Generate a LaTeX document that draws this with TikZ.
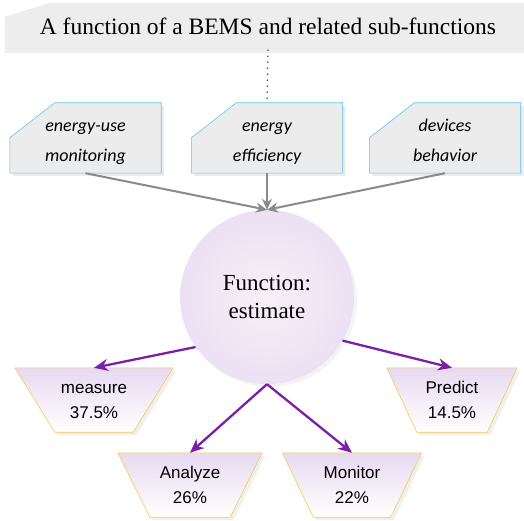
\documentclass[tikz,border=0pt]{standalone}
\usepackage{fontspec}
\setmainfont{Liberation Serif}
\setsansfont{Liberation Sans}
\newfontfamily\topicfont{Carlito}
\usepackage{tikz}
\usetikzlibrary{positioning, arrows.meta, shadows, backgrounds}

\definecolor{bannerfill}{HTML}{EDEDED}
\definecolor{topicfill}{HTML}{ECECEC}
\definecolor{topicline}{HTML}{5CC6EC}
\definecolor{lavender}{HTML}{E7DAF1}
\definecolor{blush}{HTML}{F7F0F6}
\definecolor{lilac}{HTML}{ECE0F4}
\definecolor{goldline}{HTML}{F7C94C}
\definecolor{arrgray}{HTML}{8A8A8A}
\definecolor{arrpurple}{HTML}{7B1FA8}

% invisible struts: fixed height above the first line, depth below the last
\newcommand{\upstrut}[1]{\rule{0pt}{#1}}
\newcommand{\downstrut}[1]{\rule[-#1]{0pt}{#1}}

\begin{document}
\begin{tikzpicture}[
    x=1pt, y=-1pt,
    every node/.style={align=center, inner sep=0pt},
    banner/.style={rectangle, minimum width=526pt, minimum height=47pt,
        font=\fontsize{23.5}{28}\selectfont},
    bannerframe/.style={fill=bannerfill,
        drop shadow={shadow xshift=0pt, shadow yshift=-3pt, fill=gray!20, opacity=0.6}},
    topic/.style={rectangle, minimum width=151pt, minimum height=70pt,
        font=\topicfont\itshape\fontsize{18}{30}\selectfont},
    topicframe/.style={draw=topicline, line width=0.6pt, fill=topicfill,
        drop shadow={shadow xshift=3pt, shadow yshift=-3pt, fill=gray!25, opacity=0.6}},
    fn/.style={circle, minimum size=174pt, inner color=blush, outer color=lilac,
        font=\fontsize{23}{28}\selectfont,
        drop shadow={shadow xshift=3pt, shadow yshift=-3pt, fill=gray!15, opacity=0.6}},
    share/.style={rectangle, minimum height=64pt,
        font=\sffamily\fontsize{17}{25}\selectfont},
    shareframe/.style={draw=goldline, line width=0.6pt, top color=lavender, bottom color=white,
        drop shadow={shadow xshift=3pt, shadow yshift=-3pt, fill=gray!20, opacity=0.6}},
    dots/.style={draw=black!80, line width=1.6pt, line cap=round, dash pattern=on 0pt off 6pt},
    grayarr/.style={-{Stealth[length=11pt, width=10pt]}, draw=arrgray, line width=2pt},
    purparr/.style={-{Stealth[length=14pt, width=12pt]}, draw=arrpurple, line width=2.3pt},
]
    \useasboundingbox (0,0) rectangle (524,521);

    % --- nodes (pixel coordinates, top-to-bottom) ---
    \node[banner] (banner) at (268,26.5) {A function of a BEMS and related sub-functions};

    % three related sub-functions
    \node[topic] (use) at (85.5,138) {\upstrut{22pt}energy-use\\monitoring\downstrut{4pt}};
    \node[topic] (eff) at (267,138) {\upstrut{22pt}energy\\efficiency\downstrut{4pt}};
    \node[topic] (dev) at (445,138) {\upstrut{22pt}devices\\behavior\downstrut{4pt}};

    % the function itself
    \node[fn] (fn) at (267,297) {\upstrut{18pt}Function:\\estimate\downstrut{4pt}};

    % shares of the function
    \node[share, minimum width=158pt] (measure) at (94,400) {\upstrut{15pt}measure\\37.5\%\downstrut{4pt}};
    \node[share, minimum width=144pt] (analyze) at (190,485) {\upstrut{15pt}Analyze\\26\%\downstrut{4pt}};
    \node[share, minimum width=139pt] (monitor) at (352,485) {\upstrut{15pt}Monitor\\22\%\downstrut{4pt}};
    \node[share, minimum width=130pt] (predict) at (452,400) {\upstrut{15pt}Predict\\14.5\%\downstrut{4pt}};

    % --- frames behind the text ---
    \begin{scope}[on background layer]
        \path[bannerframe] ([xshift=45pt]banner.north west) -- (banner.north east)
            -- (banner.south east) -- (banner.south west)
            -- ([yshift=-14pt]banner.north west) -- cycle;
        % cut corner at the top left
        \foreach \n in {use, eff, dev}
            \path[topicframe] ([xshift=45pt]\n.north west) -- (\n.north east)
                -- (\n.south east) -- (\n.south west)
                -- ([yshift=-35pt]\n.north west) -- cycle;
        % upside-down trapezia, \d = inset of the bottom corners
        \foreach \n/\d in {measure/40, analyze/32, monitor/31, predict/30}
            \path[shareframe] (\n.north west) -- (\n.north east)
                -- ([xshift=-\d pt]\n.south east) -- ([xshift=\d pt]\n.south west) -- cycle;
    \end{scope}

    % --- connectors ---
    \draw[dots] (banner.south) -- (eff.north);

    \draw[grayarr] (use.south) -- (fn.north);
    \draw[grayarr] (eff.south) -- (fn.north);
    \draw[grayarr] (dev.south) -- (fn.north);

    \draw[purparr] (fn.215) -- (measure.north);
    \draw[purparr] (fn.south) -- (analyze.north);
    \draw[purparr] (fn.south) -- (monitor.north);
    \draw[purparr] (fn.-30) -- (predict.north);
\end{tikzpicture}
\end{document}
